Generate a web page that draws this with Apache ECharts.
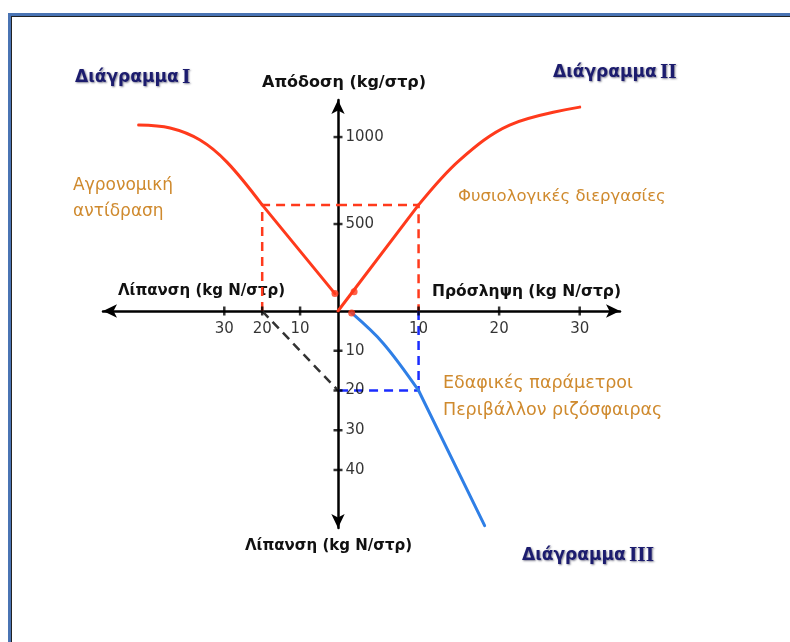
<!DOCTYPE html>
<html>
<head>
<meta charset="utf-8">
<script src="https://cdn.jsdelivr.net/npm/echarts@6/dist/echarts.min.js"></script>
<style>
  html, body { margin: 0; padding: 0; background: #fff; }
  #chart { width: 790px; height: 642px; }
</style>
</head>
<body>
<div id="chart"></div>
<script>
// Διάγραμμα Ι : απόδοση - λίπανση (καμπύλο + ευθύγραμμο τμήμα)
var diagICurve = [[52.6, 1069], [44.3, 1052], [36.4, 983], [29.3, 856], [20, 610]];
var diagILine = [[20, 610], [0.8, 100]];
// Διάγραμμα ΙΙ : απόδοση - πρόσληψη
var diagIILine = [[0, 0], [10, 610]];
var diagIICurve = [[10, 610], [15.1, 868], [21.3, 1069], [30, 1172]];
// Διάγραμμα ΙΙΙ : πρόσληψη - λίπανση
var diagIIICurve = [[1.7, 0.5], [5.6, 8.1], [10, 20]];
var diagIIILine = [[10, 20], [18.2, 54]];

var yieldRef = 610;
var fertRef = 20;
var uptakeRef = 10;

var yieldTicks = [500, 1000];
var uptakeTicks = [10, 20, 30];
var fertLeftTicks = [10, 20, 30];
var fertDownTicks = [10, 20, 30, 40];

var RED = '#ff3a1c';
var BLUE = '#2f7fe6';
var ORANGE = '#cf8a2e';
var NAVY = '#1c1c6e';
var FONT = 'DejaVu Sans';

var myChart = echarts.init(document.getElementById('chart'));

function axisLine(show, inv) {
    return {show: show, onZero: false, symbol: inv ? ['arrow', 'none'] : ['none', 'arrow'], symbolSize: [10, 14],
        lineStyle: {color: '#000', width: 2.5}};
}
function hAxis(idx, inv, max, showLine) {
    return {
        type: 'value', gridIndex: idx, min: 0, max: max, inverse: inv,
        position: idx >= 2 ? 'top' : 'bottom',
        splitLine: {show: false}, axisTick: {show: false}, axisLabel: {show: false},
        axisLine: axisLine(showLine, inv)
    };
}
function vAxis(idx, inv, max, showLine) {
    return {
        type: 'value', gridIndex: idx, min: 0, max: max, inverse: inv,
        position: (idx === 1 || idx === 3) ? 'right' : 'left',
        splitLine: {show: false}, axisTick: {show: false}, axisLabel: {show: false},
        axisLine: axisLine(showLine, inv)
    };
}

function ticks(idx, pts, horiz, pos) {
    return {
        type: 'scatter', xAxisIndex: idx, yAxisIndex: idx,
        symbol: 'rect', symbolSize: horiz ? [2.5, 9] : [9, 2.5],
        itemStyle: {color: '#000'}, silent: true, z: 5,
        label: {show: true, position: pos, distance: horiz ? 6 : 3,
            formatter: function (p) { return horiz ? p.value[0] : p.value[1]; },
            color: '#000', fontFamily: FONT, fontSize: 15},
        data: pts
    };
}

function dashed(idx, data, color) {
    return {type: 'line', xAxisIndex: idx, yAxisIndex: idx, data: data, showSymbol: false, silent: true,
        lineStyle: {color: color, width: 2.5, type: [9, 6]}, z: 3};
}
function curve(idx, data, color, smooth) {
    return {type: 'line', xAxisIndex: idx, yAxisIndex: idx, data: data, smooth: smooth, showSymbol: false,
        silent: true, lineStyle: {color: color, width: 3, cap: 'round'}, z: 4};
}
function dot(idx, pt) {
    return {type: 'scatter', xAxisIndex: idx, yAxisIndex: idx, data: [pt], symbol: 'circle', symbolSize: 7,
        itemStyle: {color: RED}, silent: true, z: 6};
}

function txt(x, y, s, color, size, weight) {
    return {type: 'text', left: x, top: y, style: {text: s, fill: color, fontFamily: FONT,
        fontSize: size || 15, fontWeight: weight || 'normal'}};
}
function title(x, y, greek, roman) {
    var sh = {textShadowColor: 'rgba(0,0,40,0.5)', textShadowBlur: 2, textShadowOffsetX: 1, textShadowOffsetY: 1};
    return {type: 'text', left: x, top: y, style: {
        text: '{g|' + greek + '} {r|' + roman + '}',
        rich: {
            g: Object.assign({fontFamily: FONT, fontSize: 17, fontWeight: 'bold', fill: NAVY}, sh),
            r: Object.assign({fontFamily: 'DejaVu Serif', fontSize: 18, fontWeight: 'bold', fill: NAVY}, sh)
        }}};
}

var option = {
    backgroundColor: '#fff',
    animation: false,
    grid: [
        {left: 338, top: 100, width: 282, height: 211},   // 0: πάνω δεξιά
        {left: 103, top: 100, width: 235, height: 211},   // 1: πάνω αριστερά
        {left: 338, top: 311, width: 282, height: 217},   // 2: κάτω δεξιά
        {left: 103, top: 311, width: 235, height: 217}    // 3: κάτω αριστερά
    ],
    xAxis: [hAxis(0, false, 35, true), hAxis(1, true, 62, true), hAxis(2, false, 35, false), hAxis(3, true, 62, false)],
    yAxis: [vAxis(0, false, 1213, true), vAxis(1, false, 1213, false), vAxis(2, true, 54.6, true), vAxis(3, true, 54.6, false)],
    series: [
        dashed(1, [[fertRef, 0], [fertRef, yieldRef], [0, yieldRef]], RED),
        dashed(0, [[0, yieldRef], [uptakeRef, yieldRef], [uptakeRef, 0]], RED),
        dashed(2, [[uptakeRef, 0], [uptakeRef, fertRef], [0, fertRef]], '#1a2cff'),
        dashed(3, [[fertRef, 0], [0, fertRef]], '#333'),
        curve(1, diagICurve, RED, 0.35),
        curve(1, diagILine, RED, false),
        curve(0, diagIILine, RED, false),
        curve(0, diagIICurve, RED, 0.35),
        curve(2, diagIIICurve, BLUE, 0.35),
        curve(2, diagIIILine, BLUE, false),
        dot(1, diagILine[diagILine.length - 1]),
        dot(0, [2, 110]),
        dot(2, diagIIICurve[0]),
        ticks(0, uptakeTicks.map(function (v) { return [v, 0]; }), true, 'bottom'),
        ticks(1, fertLeftTicks.map(function (v) { return [v, 0]; }), true, 'bottom'),
        ticks(0, yieldTicks.map(function (v) { return [0, v]; }), false, 'right'),
        ticks(2, fertDownTicks.map(function (v) { return [0, v]; }), false, 'right')
    ],
    graphic: [
        {type: 'rect', shape: {x: 8, y: 13, width: 782, height: 3}, style: {fill: '#4a74b4'}},
        {type: 'rect', shape: {x: 8, y: 13, width: 3, height: 629}, style: {fill: '#4a74b4'}},
        {type: 'rect', shape: {x: 11, y: 16, width: 779, height: 1}, style: {fill: '#222'}},
        {type: 'rect', shape: {x: 11, y: 16, width: 1, height: 626}, style: {fill: '#222'}},
        title(75, 69, 'Διάγραμμα', 'I'),
        title(553, 64, 'Διάγραμμα', 'II'),
        title(522, 547, 'Διάγραμμα', 'III'),
        txt(262, 75, 'Απόδοση (kg/στρ)', '#111', 16, 'bold'),
        txt(73, 177, 'Αγρονομική', ORANGE, 17),
        txt(73, 203, 'αντίδραση', ORANGE, 17),
        txt(458, 188, 'Φυσιολογικές διεργασίες', ORANGE, 16.5),
        txt(118, 284, 'Λίπανση (kg N/στρ)', '#111', 15, 'bold'),
        txt(432, 284, 'Πρόσληψη (kg N/στρ)', '#111', 15.5, 'bold'),
        txt(443, 374, 'Εδαφικές παράμετροι', ORANGE, 17.5),
        txt(443, 401, 'Περιβάλλον ριζόσφαιρας', ORANGE, 17.5),
        txt(245, 539, 'Λίπανση (kg N/στρ)', '#111', 15, 'bold')
    ]
};
myChart.setOption(option);
</script>
</body>
</html>
